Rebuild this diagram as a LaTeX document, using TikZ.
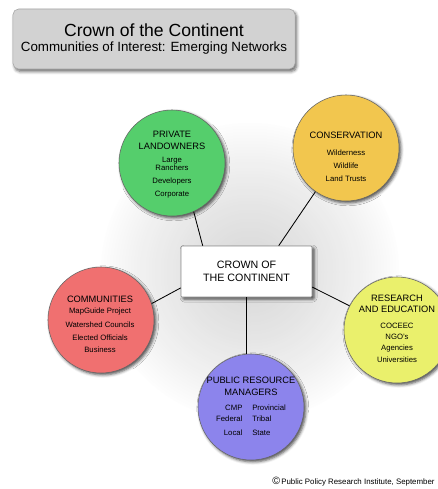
\documentclass[tikz,border=0pt]{standalone}
\usepackage{fontspec}
\setmainfont{Liberation Sans}
\usepackage{xcolor}
\definecolor{ownergreen}{HTML}{55CE6C}
\definecolor{conservegold}{HTML}{F2C64E}
\definecolor{communityred}{HTML}{F07070}
\definecolor{researchyellow}{HTML}{EAF06C}
\definecolor{publicpurple}{HTML}{8C84EC}
\definecolor{titlegray}{HTML}{D2D2D2}
\usetikzlibrary{shadows.blur}

\newcommand{\itemsize}{\fontsize{5.5}{8.8}\selectfont}

\begin{document}
\begin{tikzpicture}[x=0.025cm, y=-0.025cm,
  titlebox/.style={draw=black!35, fill=titlegray, rounded corners=4pt, minimum width=7.05cm, minimum height=1.5cm, align=center,
    blur shadow={shadow xshift=1.2pt, shadow yshift=-1.8pt, shadow blur steps=5, shadow opacity=60}},
  hub/.style={draw=black!45, fill=white, rounded corners=0.8pt, minimum width=3.275cm, minimum height=1.275cm, inner sep=0pt, align=center,
    font=\fontsize{7.6}{9.6}\selectfont,
    blur shadow={shadow xshift=1.5pt, shadow yshift=-1.5pt, shadow blur steps=4, shadow opacity=70}},
  group/.style={circle, draw=black!60, line width=0.4pt, fill=#1, minimum size=2.65cm, inner sep=0pt,
    blur shadow={shadow xshift=1.3pt, shadow yshift=-1.3pt, shadow blur steps=4, shadow opacity=70}},
  grouptext/.style={align=center, inner sep=0pt, font=\fontsize{6.6}{8.5}\selectfont},
  link/.style={draw=black, line width=0.6pt}]

  \useasboundingbox (0,0) rectangle (438,489);

  % Halo, darker towards the hub
  \foreach \r in {152,149,...,5} {
    \pgfmathsetmacro{\tint}{16*(1-\r/152)^0.8}
    \fill[black!\tint] (250,272) circle [radius=\r];
  }

  % Heading
  \node[titlebox] (title) at (154,39)
    {{\fontsize{12.5}{15}\selectfont Crown of the Continent}\\[-1pt]{\fontsize{9.5}{11}\selectfont Communities of Interest: Emerging Networks}};

  % Hub and its five groups
  \node[hub] (crown) at (246.5,271.5) {CROWN OF\\THE CONTINENT};

  \node[group=ownergreen]     (owners)      at (172,163) {};
  \node[group=conservegold]   (conserve)    at (346,148) {};
  \node[group=communityred]   (communities) at (101,320) {};
  \node[group=researchyellow] (research)    at (397,330) {};
  \node[group=publicpurple]   (managers)    at (251,407) {};

  % Group texts
  \node[grouptext] (owners-text) at (172,164.5)
    {PRIVATE\\LANDOWNERS\\[0.7pt]\itemsize Large\\[-2.5pt]\itemsize Ranchers\\[0.7pt]\itemsize Developers\\[0.7pt]\itemsize Corporate};
  \node[grouptext] (conserve-text) at (346,157)
    {CONSERVATION\\[3.6pt]\itemsize Wilderness\\[0.7pt]\itemsize Wildlife\\[0.7pt]\itemsize Land Trusts};
  \node[grouptext] (communities-text) at (100,324.5)
    {COMMUNITIES\\[-0.7pt]\itemsize MapGuide Project\\[1.4pt]\itemsize Watershed Councils\\[0.7pt]\itemsize Elected Officials\\\itemsize Business};
  \node[grouptext] (research-text) at (397,329)
    {RESEARCH\\[-0.7pt]AND EDUCATION\\[2.8pt]\itemsize COCEEC\\[-0.7pt]\itemsize NGO's\\[-0.7pt]\itemsize Agencies\\\itemsize Universities};
  \node[grouptext] (managers-text) at (251,408)
    {PUBLIC RESOURCE\\MANAGERS\\[2.1pt]\itemsize
     \begin{tabular}[t]{@{}r@{\hspace{7pt}}l@{}}
       CMP & Provincial\\[-1pt]
       Federal & Tribal\\[1.2pt]
       Local & State
     \end{tabular}};

  % Links
  \draw[link] ([xshift=0.55cm]crown.north west) -- (owners.294);
  \draw[link] ([xshift=2.45cm]crown.north west) -- (conserve.235);
  \draw[link] ([yshift=-0.41cm]crown.west) -- (communities.18);
  \draw[link] ([yshift=-0.39cm]crown.east) -- (research.153);
  \draw[link] (crown.south) -- (crown.south |- managers.north);

  % Credit line
  \node[anchor=base west, font=\fontsize{5.6}{6}\selectfont, inner sep=0pt] (credit) at (272,484)
    {{\fontsize{7.5}{7}\selectfont\textcopyright}\,Public Policy Research Institute, September};
\end{tikzpicture}
\end{document}
